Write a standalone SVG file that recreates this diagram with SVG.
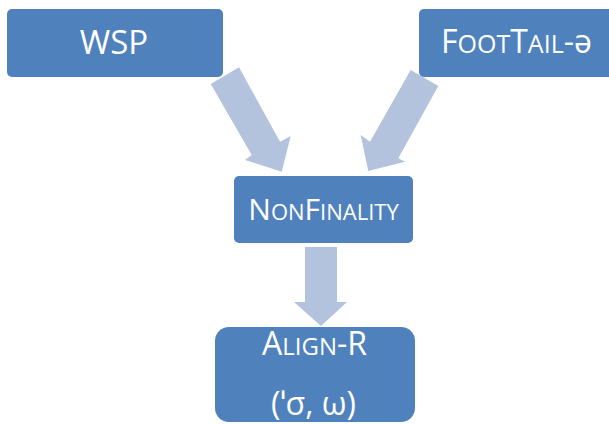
<svg xmlns="http://www.w3.org/2000/svg" width="609" height="424" viewBox="0 0 609 424">
  <style>
    .box { fill: #4F81BD; }
    .arrow { fill: #B3C3DD; }
    .label { font-family: "Open Sans", "Noto Sans", "DejaVu Sans", sans-serif; fill: #FFFFFF; text-anchor: middle; }
  </style>
  <rect width="609" height="424" fill="#FFFFFF"/>

  <!-- block arrows -->
  <g id="connectors">
    <polygon class="arrow" points="210.7,84 239,67.3 280,141.7 290.7,136 281.7,171.7 245,160 251.7,155"/>
    <polygon class="arrow" points="410.7,70 438.3,86 398.3,158.3 405,161.7 368.3,171 360.7,135 370,141.7"/>
    <polygon class="arrow" points="305,247 337,247 337,302 347,302 321,326 294,302 305,302"/>
  </g>

  <g id="wsp">
    <rect class="box" x="7" y="9" width="216" height="68" rx="5"/>
    <text class="label" x="114" y="54" font-size="33">WSP</text>
  </g>

  <g id="foottail">
    <rect class="box" x="419" y="9" width="220" height="68" rx="5"/>
    <text class="label" x="516.5" y="53" font-size="32">F<tspan font-size="25">OOT</tspan>T<tspan font-size="25">AIL</tspan>-ə</text>
  </g>

  <g id="nonfinality">
    <rect class="box" x="234" y="176" width="179" height="67" rx="5"/>
    <text class="label" x="323.5" y="220" font-size="30">N<tspan font-size="22">ON</tspan>F<tspan font-size="22">INALITY</tspan></text>
  </g>

  <g id="align-r">
    <rect class="box" x="215" y="327" width="200" height="95" rx="14"/>
    <text class="label" x="314.5" y="355" font-size="32">A<tspan font-size="24">LIGN</tspan>-R</text>
    <text class="label" x="313.5" y="415" font-size="32">(ˈσ, ω)</text>
  </g>
</svg>
